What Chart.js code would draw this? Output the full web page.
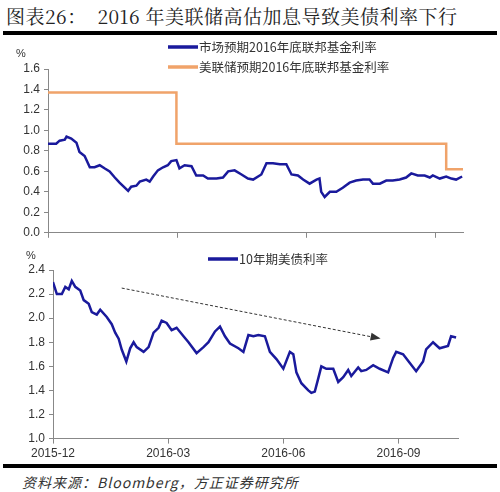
<!DOCTYPE html>
<html><head><meta charset="utf-8">
<script src="https://cdn.jsdelivr.net/npm/chart.js@4"></script>
<style>
body{margin:0;background:#fff;width:500px;height:492px;position:relative;overflow:hidden;font-family:"Noto Sans CJK SC",sans-serif}
#title{position:absolute;left:6px;top:2px;font-family:"Noto Serif CJK SC","Noto Sans CJK SC",serif;font-size:19px;color:#222;letter-spacing:0.5px}
.bar{position:absolute;left:3px;width:494px;height:4px;background:#000}
#src{position:absolute;left:22px;top:472px;font-size:14px;font-style:italic;color:#333;letter-spacing:1px}
canvas{position:absolute;left:0}
</style></head><body>
<div id="title">图表26：&nbsp;&nbsp;2016 年美联储高估加息导致美债利率下行</div>
<div class="bar" style="top:31px"></div>
<div class="bar" style="top:464px"></div>
<div id="src">资料来源：Bloomberg，方正证券研究所</div>
<div style="position:absolute;left:0;top:36px;width:500px;height:208px"><canvas id="c1"></canvas></div>
<div style="position:absolute;left:0;top:246px;width:500px;height:218px"><canvas id="c2"></canvas></div>
<script>
const tickMonths=[0,3,6,9];
const tickLabels=['2015-12','2016-03','2016-06','2016-09'];
const mktMonths=[0,.19,.27,.39,.43,.54,.66,.73,.85,.97,1.08,1.20,1.31,1.43,1.55,1.66,1.86,1.93,2.05,2.13,2.28,2.36,2.44,2.55,2.67,2.78,2.86,2.98,3.05,3.17,3.33,3.44,3.60,3.71,3.91,4.06,4.18,4.33,4.49,4.64,4.76,4.95,5.07,5.22,5.38,5.53,5.65,5.80,5.92,6.07,6.23,6.30,6.34,6.42,6.54,6.69,6.84,7.00,7.15,7.31,7.46,7.54,7.70,7.85,8.00,8.16,8.31,8.43,8.58,8.74,8.86,8.93,9.09,9.24,9.36,9.47,9.61];
const mktRate=[.87,.87,.90,.91,.94,.92,.88,.79,.75,.64,.64,.66,.63,.60,.54,.49,.41,.45,.46,.50,.52,.50,.55,.61,.64,.66,.70,.71,.63,.66,.65,.56,.56,.53,.53,.54,.60,.61,.57,.53,.52,.57,.68,.68,.67,.67,.57,.56,.52,.48,.52,.53,.40,.35,.40,.40,.44,.49,.51,.52,.52,.48,.48,.51,.51,.52,.54,.58,.56,.56,.54,.56,.53,.55,.53,.52,.55];
const fedMonths=[0,2.98,2.98,9.24,9.24,9.63];
const fedRate=[1.37,1.37,.87,.87,.62,.62];
const ustMonths=[0,.10,.23,.32,.41,.49,.58,.71,.80,.93,1.01,1.14,1.23,1.40,1.53,1.62,1.71,1.79,1.91,2.01,2.10,2.18,2.36,2.49,2.62,2.75,2.83,2.96,3.09,3.22,3.40,3.53,3.74,3.92,4.05,4.22,4.35,4.48,4.61,4.83,4.96,5.09,5.22,5.35,5.52,5.65,5.82,6.00,6.17,6.26,6.34,6.47,6.65,6.73,6.82,6.91,6.99,7.12,7.30,7.43,7.56,7.69,7.77,7.95,8.03,8.16,8.34,8.51,8.73,8.86,8.94,9.12,9.29,9.46,9.64,9.72,9.90,10.07,10.29,10.37,10.50];
const ust10y=[2.30,2.20,2.20,2.26,2.24,2.31,2.26,2.23,2.15,2.12,2.05,2.03,2.07,2.01,1.95,1.88,1.83,1.74,1.64,1.75,1.80,1.76,1.72,1.76,1.88,1.92,1.98,1.96,1.90,1.92,1.85,1.80,1.71,1.76,1.80,1.89,1.93,1.85,1.79,1.75,1.72,1.86,1.85,1.86,1.85,1.72,1.66,1.58,1.72,1.70,1.55,1.46,1.40,1.38,1.39,1.50,1.60,1.58,1.58,1.47,1.51,1.57,1.52,1.59,1.56,1.57,1.61,1.58,1.55,1.67,1.72,1.70,1.63,1.56,1.64,1.74,1.80,1.75,1.77,1.85,1.84];
const trendMonths=[1.79,8.38];
const trendVals=[2.25,1.84];

const BLUE='#1a1a9c',ORANGE='#f0a36a',TXT='#333';
const F="'Liberation Sans',Arial,sans-serif";
function pts(xs,ys){return xs.map((x,i)=>({x,y:ys[i]}));}
const legendPlugin={id:'leg',afterDraw(ch,a,o){const c=ch.ctx;c.save();c.font='12.5px "Noto Sans CJK SC",sans-serif';c.fillStyle=TXT;c.textBaseline='middle';
 o.items.forEach(it=>{c.strokeStyle=it.color;c.lineWidth=3.5;c.beginPath();c.moveTo(it.x,it.y);c.lineTo(it.x+30,it.y);c.stroke();c.fillText(it.text,it.x+31,it.y);});
 c.font='11px '+F;c.fillText('%',o.pctX,o.pctY);c.restore();}};
const arrowPlugin={id:'arr',afterDatasetsDraw(ch){const m=ch.getDatasetMeta(1);if(!m||!m.data.length)return;const p0=m.data[0],p1=m.data[1];const c=ch.ctx;const ang=Math.atan2(p1.y-p0.y,p1.x-p0.x);c.save();c.fillStyle='#333';c.beginPath();c.moveTo(p1.x+6*Math.cos(ang),p1.y+6*Math.sin(ang));c.lineTo(p1.x-4*Math.cos(ang)+4*Math.sin(ang),p1.y-4*Math.sin(ang)-4*Math.cos(ang));c.lineTo(p1.x-4*Math.cos(ang)-4*Math.sin(ang),p1.y-4*Math.sin(ang)+4*Math.cos(ang));c.closePath();c.fill();c.restore();}};
function yAxis(min,max,step,fixedW){return{min,max,ticks:{stepSize:step,color:TXT,font:{family:F,size:12},callback:v=>v.toFixed(1),padding:4},grid:{drawOnChartArea:false,color:'#888',tickLength:4},border:{color:'#888'},afterFit(s){s.width=fixedW;}};}
function xAxis(max,labels){return{type:'linear',min:0,max,afterBuildTicks(s){s.ticks=tickMonths.map(v=>({value:v}));},ticks:{display:labels,color:TXT,font:{family:F,size:12},autoSkip:false,maxRotation:0,callback:(v)=>tickLabels[tickMonths.indexOf(v)]||''},grid:{drawOnChartArea:false,color:'#888',tickLength:5,offset:false},border:{color:'#888'}};}
new Chart(document.getElementById('c1'),{type:'line',
 data:{datasets:[{data:pts(mktMonths,mktRate),borderColor:BLUE,borderWidth:2.5,pointRadius:0,tension:0},
  {data:pts(fedMonths,fedRate),borderColor:ORANGE,borderWidth:2.5,pointRadius:0,tension:0}]},
 options:{responsive:true,maintainAspectRatio:false,animation:false,layout:{padding:{top:33,right:37,left:0,bottom:0}},
  plugins:{legend:{display:false},tooltip:{enabled:false},leg:{pctX:16,pctY:18,items:[{x:168,y:11,color:BLUE,text:'市场预期2016年底联邦基金利率'},{x:168,y:31,color:ORANGE,text:'美联储预期2016年底联邦基金利率'}]}},
  scales:{x:xAxis(9.63,false),y:yAxis(0,1.6,0.2,48)}},plugins:[legendPlugin]});
new Chart(document.getElementById('c2'),{type:'line',
 data:{datasets:[{data:pts(ustMonths,ust10y),borderColor:BLUE,borderWidth:2.5,pointRadius:0,tension:0},
  {data:pts(trendMonths,trendVals),borderColor:'#333',borderWidth:1,borderDash:[3,2],pointRadius:0}]},
 options:{responsive:true,maintainAspectRatio:false,animation:false,layout:{padding:{top:24,right:42,left:0,bottom:0}},
  plugins:{legend:{display:false},tooltip:{enabled:false},leg:{pctX:26,pctY:10,items:[{x:208,y:13,color:BLUE,text:'10年期美债利率'}]}},
  scales:{x:xAxis(10.55,true),y:yAxis(1.0,2.4,0.2,53)}},plugins:[legendPlugin,arrowPlugin]});
</script></body></html>
